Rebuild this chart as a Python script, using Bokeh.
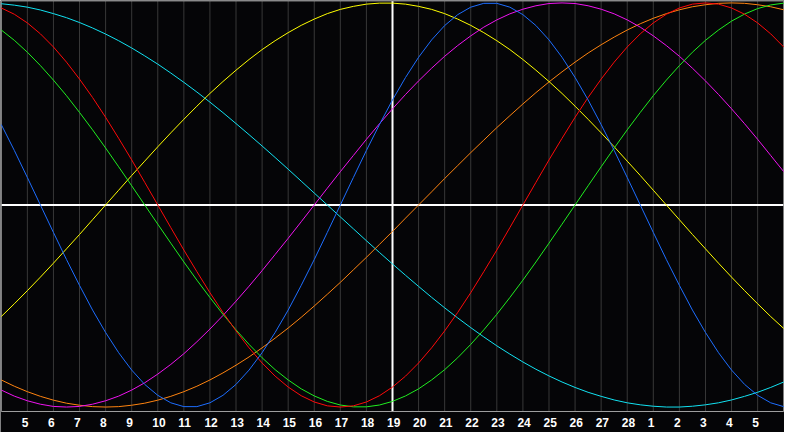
from bokeh.plotting import figure
from bokeh.models import Range1d
from bokeh.core.properties import value
from bokeh.embed import file_html
from bokeh.resources import INLINE

# ---- data ----
# sample positions every half day from 0 to 30 (grid lines at 1..29)
day_pos = [i * 0.5 for i in range(61)]
tick_pos = list(range(1, 30))
day_labels = [str(d) for d in range(5, 29)] + ["1", "2", "3", "4", "5"]

# cycle values in percent at each half-day position
physical = [39.8, 27.0, 13.6, 0, -13.6, -27.0, -39.8, -52.0, -63.1, -73.1, -81.7, -88.8,
            -94.2, -97.9, -99.8, -99.8, -97.9, -94.2, -88.8, -81.7, -73.1, -63.1, -52.0,
            -39.8, -27.0, -13.6, 0,
            13.6, 27.0, 39.8, 52.0, 63.1, 73.1, 81.7, 88.8, 94.2, 97.9, 99.8, 99.8, 97.9,
            94.2, 88.8, 81.7, 73.1, 63.1, 52.0, 39.8, 27.0, 13.6, 0,
            -13.6, -27.0, -39.8, -52.0, -63.1, -73.1, -81.7, -88.8, -94.2, -97.9, -99.8]
emotional = [97.5, 94.4, 90.1, 84.7, 78.2, 70.7, 62.3, 53.2, 43.4, 33.0, 22.3, 11.2, 0,
             -11.2, -22.3, -33.0, -43.4, -53.2, -62.3, -70.7, -78.2, -84.7, -90.1, -94.4,
             -97.5, -99.4, -100,
             -99.4, -97.5, -94.4, -90.1, -84.7, -78.2, -70.7, -62.3, -53.2, -43.4, -33.0,
             -22.3, -11.2, 0,
             11.2, 22.3, 33.0, 43.4, 53.2, 62.3, 70.7, 78.2, 84.7, 90.1, 94.4, 97.5, 99.4, 100,
             99.4, 97.5, 94.4, 90.1, 84.7, 78.2]
intellectual = [86.6, 81.5, 75.6, 69.0, 61.8, 54.1, 45.8, 37.2, 28.2, 18.9, 9.5, 0,
                -9.5, -18.9, -28.2, -37.2, -45.8, -54.1, -61.8, -69.0, -75.6, -81.5, -86.6,
                -91.0, -94.5, -97.2, -99.0, -99.9, -99.9, -99.0, -97.2, -94.5, -91.0, -86.6,
                -81.5, -75.6, -69.0, -61.8, -54.1, -45.8, -37.2, -28.2, -18.9, -9.5,
                0, 9.5, 18.9, 28.2, 37.2, 45.8, 54.1, 61.8, 69.0, 75.6, 81.5, 86.6, 91.0,
                94.5, 97.2, 99.0, 99.9]
intuitive = [-91.6, -94.6, -96.9, -98.6, -99.7, -100, -99.7, -98.6, -96.9, -94.6, -91.6,
             -88.0, -83.7, -78.9, -73.6, -67.7, -61.4, -54.7, -47.6, -40.2, -32.5, -24.5,
             -16.5, -8.3, 0,
             8.3, 16.5, 24.5, 32.5, 40.2, 47.6, 54.7, 61.4, 67.7, 73.6, 78.9, 83.7, 88.0,
             91.6, 94.6, 96.9, 98.6, 99.7, 100, 99.7, 98.6, 96.9, 94.6, 91.6, 88.0, 83.7,
             78.9, 73.6, 67.7, 61.4, 54.7, 47.6, 40.2, 32.5, 24.5, 16.5]
aesthetic = [-55.2, -48.9, -42.4, -35.7, -28.8, -21.7, -14.6, -7.3,
             0, 7.3, 14.6, 21.7, 28.8, 35.7, 42.4, 48.9, 55.2, 61.1, 66.7, 72.0, 76.9, 81.3,
             85.3, 88.9, 92.0, 94.7, 96.8, 98.3, 99.4, 99.9, 99.9, 99.4, 98.3, 96.8, 94.7,
             92.0, 88.9, 85.3, 81.3, 76.9, 72.0, 66.7, 61.1, 55.2, 48.9, 42.4, 35.7, 28.8,
             21.7, 14.6, 7.3, 0,
             -7.3, -14.6, -21.7, -28.8, -35.7, -42.4, -48.9, -55.2, -61.1]
awareness = [-86.6, -89.7, -92.4, -94.7, -96.6, -98.1, -99.1, -99.8, -100, -99.8, -99.1,
             -98.1, -96.6, -94.7, -92.4, -89.7, -86.6, -83.1, -79.3, -75.2, -70.7, -65.9,
             -60.9, -55.6, -50.0, -44.2, -38.3, -32.1, -25.9, -19.5, -13.1, -6.5,
             0, 6.5, 13.1, 19.5, 25.9, 32.1, 38.3, 44.2, 50.0, 55.6, 60.9, 65.9, 70.7, 75.2,
             79.3, 83.1, 86.6, 89.7, 92.4, 94.7, 96.6, 98.1, 99.1, 99.8, 100, 99.8, 99.1,
             98.1, 96.6]
spiritual = [99.6, 98.9, 97.9, 96.5, 94.7, 92.7, 90.3, 87.6, 84.6, 81.3, 77.7, 73.8, 69.7,
             65.3, 60.7, 55.9, 50.9, 45.7, 40.3, 34.8, 29.2, 23.5, 17.7, 11.8, 5.9, 0,
             -5.9, -11.8, -17.7, -23.5, -29.2, -34.8, -40.3, -45.7, -50.9, -55.9, -60.7,
             -65.3, -69.7, -73.8, -77.7, -81.3, -84.6, -87.6, -90.3, -92.7, -94.7, -96.5,
             -97.9, -98.9, -99.6,
             -100.0, -100.0, -99.6, -98.9, -97.9, -96.5, -94.7, -92.7, -90.3, -87.6]

series = [
    (spiritual, "#12e2f2"),
    (awareness, "#ff8410"),
    (aesthetic, "#ffff00"),
    (intuitive, "#f014f0"),
    (intellectual, "#20ee20"),
    (emotional, "#ff0a0a"),
    (physical, "#1e6eff"),
]

TOP = 101.0
BOTTOM = -102.2
LABEL_Y = -107.7
CENTER_TICK = 15

p = figure(width=784, height=432,
           x_range=Range1d(-0.03, 30.03), y_range=Range1d(-112.6, 101.2),
           x_axis_type=None, y_axis_type=None,
           toolbar_location=None, output_backend="svg",
           min_border=0, min_border_left=0, min_border_right=0,
           min_border_top=0, min_border_bottom=0,
           background_fill_color="#050507", border_fill_color="#050507",
           outline_line_color=None)

# vertical day grid
n = len(tick_pos)
p.segment(x0=tick_pos, y0=[BOTTOM] * n, x1=tick_pos, y1=[TOP] * n,
          line_color="#383838", line_width=1)

# crosshair
p.segment(x0=[day_pos[0]], y0=[0], x1=[day_pos[-1]], y1=[0],
          line_color="white", line_width=2)
p.segment(x0=[CENTER_TICK], y0=[BOTTOM], x1=[CENTER_TICK], y1=[TOP],
          line_color="white", line_width=2)

# frame
p.quad(left=[day_pos[0]], right=[day_pos[-1]], bottom=[BOTTOM], top=[TOP],
       fill_color=None, line_color="#a0a0a0", line_width=1)

# curves
for vals, col in series:
    p.line(day_pos, vals, line_color=col, line_width=1, line_join="round")

# day labels
p.text(x=tick_pos, y=[LABEL_Y] * n, text=day_labels,
       text_color="white", text_font=value("Liberation Sans"),
       text_font_style="bold", text_font_size="12px",
       text_align="left", text_baseline="middle", x_offset=-5.5)

open("out.html", "w").write(file_html(p, INLINE))
